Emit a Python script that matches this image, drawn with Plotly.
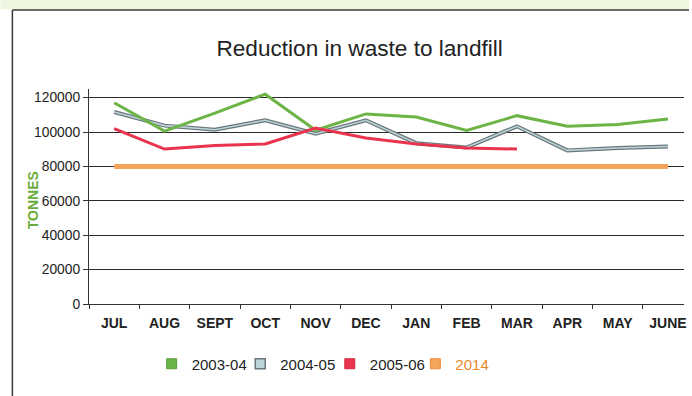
import plotly.graph_objects as go

# Monthly tonnes sent to landfill, financial year July-June
months = ["JUL", "AUG", "SEPT", "OCT", "NOV", "DEC", "JAN", "FEB", "MAR", "APR", "MAY", "JUNE"]
fy_2003_04 = [117000, 100500, 111000, 122000, 101000, 110500, 108700, 100900, 109500, 103300, 104300, 107600]
fy_2004_05 = [111600, 103700, 101300, 106800, 99000, 106800, 93500, 91000, 103300, 89300, 90700, 91600]
fy_2005_06 = [102000, 90100, 92200, 93000, 102300, 96500, 93000, 90700, 90100, None, None, None]
target_2014 = [80000] * 12

y_ticks = [0, 20000, 40000, 60000, 80000, 100000, 120000]

GREEN = "#6cb446"
GREY_EDGE = "#69777c"
GREY_FILL = "#bcd3d7"
RED = "#e8344c"
ORANGE = "#f4a55c"
INK = "#222222"

# plot area in pixels: left 89, width 598, bottom edge at 304, height 215
PL, PW, PB, PH = 89, 598, 304, 215


def px_x(x):
    return (x - PL) / PW


def px_y(y):
    return (PB - y) / PH


fig = go.Figure()

# 2014 target band (drawn first, under the yearly lines)
fig.add_trace(go.Scatter(x=months, y=target_2014, mode="lines",
                         line=dict(color=ORANGE, width=5), showlegend=False, hoverinfo="skip"))
# 2004-05: dark edged light line
fig.add_trace(go.Scatter(x=months, y=fy_2004_05, mode="lines",
                         line=dict(color=GREY_EDGE, width=4), showlegend=False, hoverinfo="skip"))
fig.add_trace(go.Scatter(x=months, y=fy_2004_05, mode="lines",
                         line=dict(color=GREY_FILL, width=1.6), showlegend=False))
fig.add_trace(go.Scatter(x=months, y=fy_2003_04, mode="lines",
                         line=dict(color=GREEN, width=3), showlegend=False))
fig.add_trace(go.Scatter(x=months, y=fy_2005_06, mode="lines",
                         line=dict(color=RED, width=3), showlegend=False))

# Square legend keys, one small legend per entry so each can be placed on its own
legend_items = [
    ("2003-04", "legend", 152, dict(color=GREEN, line=dict(color="#5a9c3a", width=1))),
    ("2004-05", "legend2", 241, dict(color=GREY_FILL, line=dict(color=GREY_EDGE, width=1.5))),
    ("2005-06", "legend3", 331, dict(color=RED, line=dict(color="#d02a40", width=1))),
    ("<span style='color:#e8892e'>2014</span>", "legend4", 417,
     dict(color=ORANGE, line=dict(color="#f08a3a", width=1))),
]
legend_layouts = {}
for name, lg, left, mk in legend_items:
    fig.add_trace(go.Scatter(x=[None], y=[None], mode="markers", name=name, legend=lg,
                             marker=dict(symbol="square", size=10, **mk)))
    legend_layouts[lg] = dict(orientation="h", x=px_x(left), xanchor="left",
                              y=px_y(364), yanchor="middle",
                              font=dict(size=15, color=INK), itemwidth=30,
                              bgcolor="rgba(0,0,0,0)")

fig.update_layout(
    width=692, height=396,
    margin=dict(l=PL, r=692 - PL - PW, t=PB - PH, b=396 - PB),
    paper_bgcolor="white", plot_bgcolor="white",
    font=dict(family="Liberation Sans, Arial, sans-serif", color=INK),
    title=dict(text="Reduction in waste to landfill", font=dict(size=22.6, color=INK),
               xref="paper", x=px_x(361), xanchor="center",
               yref="container", y=1 - 48 / 396, yanchor="middle"),
    showlegend=True,
    **legend_layouts,
    xaxis=dict(type="category", range=[-0.5, 11.318], showgrid=False, zeroline=False,
               showline=True, linecolor="#333333", linewidth=1.2,
               ticks="outside", tickson="boundaries", ticklen=4, tickcolor="#333333",
               tickfont=dict(size=14, color=INK, weight="bold"), ticklabelstandoff=6),
    yaxis=dict(range=[0, 125000], tickvals=y_ticks, ticktext=[str(v) for v in y_ticks],
               showgrid=True, gridcolor="#2a2a2a", gridwidth=1.1, zeroline=False,
               showline=True, linecolor="#333333", linewidth=1.2,
               ticks="outside", ticklen=5, tickcolor="#333333",
               tickfont=dict(size=13.8, color=INK)),
    annotations=[dict(text="TONNES", textangle=-90, xref="paper", yref="paper",
                      x=px_x(33), y=px_y(200), xanchor="center", yanchor="middle",
                      showarrow=False, font=dict(size=14, color="#6aad3c", weight="bold"))],
    shapes=[
        # pale green strip above the frame
        dict(type="rect", xref="paper", yref="paper", x0=px_x(0), x1=px_x(692),
             y0=px_y(9), y1=px_y(0), fillcolor="#eef6df", line=dict(width=0), layer="below"),
        # frame lines
        dict(type="line", xref="paper", yref="paper", x0=px_x(12), x1=px_x(692),
             y0=px_y(10), y1=px_y(10), line=dict(color="#3a3a3a", width=1.5)),
        dict(type="line", xref="paper", yref="paper", x0=px_x(12), x1=px_x(12),
             y0=px_y(10), y1=px_y(396), line=dict(color="#3a3a3a", width=1.5)),
    ],
)

fig.write_html("out.html")
